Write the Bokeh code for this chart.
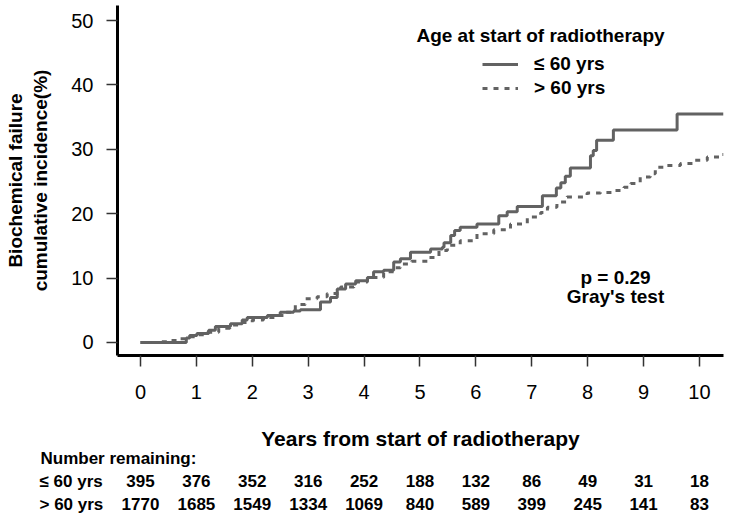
from bokeh.plotting import figure
from bokeh.layouts import column
from bokeh.models import (FixedTicker, Label, LinearAxis, Legend, LegendItem)
from bokeh.core.properties import value
from bokeh.embed import file_html
from bokeh.resources import INLINE

# ---------------- data ----------------
years = [0, 1, 2, 3, 4, 5, 6, 7, 8, 9, 10]
y_ticks = [0, 10, 20, 30, 40, 50]
n_le60 = [395, 376, 352, 316, 252, 188, 132, 86, 49, 31, 18]
n_gt60 = [1770, 1685, 1549, 1334, 1069, 840, 589, 399, 245, 141, 83]

t_le60 = [0.0, 0.82, 0.88, 1.01, 1.22, 1.34, 1.61, 1.82, 1.91, 2.27, 2.50, 2.74,
          2.86, 3.22, 3.40, 3.52, 3.67, 3.85, 4.06, 4.17, 4.35, 4.53, 4.65, 4.83,
          5.19, 5.40, 5.43, 5.55, 5.62, 5.72, 6.02, 6.41, 6.56, 6.74, 7.19, 7.44,
          7.52, 7.60, 7.69, 8.05, 8.10, 8.16, 8.46, 9.60, 10.43]
ci_le60 = [0.0, 0.7, 1.1, 1.4, 1.9, 2.5, 2.9, 3.5, 3.9, 4.2, 4.7, 4.9,
           5.1, 6.3, 7.0, 8.3, 9.1, 9.6, 10.1, 11.0, 11.2, 12.5, 13.0, 14.0,
           14.5, 14.8, 15.5, 16.6, 17.4, 17.9, 18.4, 19.7, 20.3, 21.1, 22.8, 24.0,
           24.8, 25.8, 27.1, 29.0, 29.8, 31.4, 33.0, 35.5, 35.5]

t_gt60 = [0.0, 0.30, 0.55, 0.70, 0.85, 1.00, 1.20, 1.40, 1.60, 1.80, 2.00, 2.20,
          2.40, 2.60, 2.77, 2.95, 3.16, 3.34, 3.58, 3.82, 4.06, 4.35, 4.53, 4.65,
          4.85, 5.16, 5.34, 5.49, 5.72, 6.02, 6.32, 6.62, 6.92, 7.16, 7.28, 7.45,
          7.63, 7.99, 8.23, 8.47, 8.65, 8.77, 8.94, 9.12, 9.21, 9.42, 9.66, 9.90,
          10.14, 10.38, 10.43]
ci_gt60 = [0.0, 0.1, 0.3, 0.6, 0.9, 1.2, 1.6, 2.2, 2.7, 3.1, 3.5, 3.9,
           4.2, 4.7, 5.9, 6.8, 7.1, 7.6, 8.6, 9.4, 10.1, 11.0, 11.6, 12.2,
           12.6, 13.2, 14.3, 15.1, 15.8, 16.9, 17.5, 18.4, 19.5, 20.2, 21.0, 21.8,
           22.6, 23.2, 23.3, 23.6, 24.1, 24.7, 25.7, 26.2, 27.2, 27.5, 27.8, 28.3,
           28.8, 29.2, 29.2]

label_le60 = "\u2264 60 yrs"
label_gt60 = "> 60 yrs"
table_rows = [1, 0]   # row index of each group in the number-at-risk table

# ---------------- styling ----------------
FONT = "Liberation Sans"
GRAY = "#626262"
W = 729

p = figure(width=W, height=410, x_range=(-0.411, 10.43), y_range=(-2.02, 52.33),
           output_backend="svg", toolbar_location=None, title_location=None,
           min_border_left=117, min_border_right=6, min_border_top=5,
           min_border_bottom=55)
p.frame_align = False
p.outline_line_color = None
p.grid.visible = False

for ax in (p.xaxis[0], p.yaxis[0]):
    ax.axis_line_width = 3
    ax.axis_line_color = "black"
    ax.major_tick_out = 11
    ax.major_tick_in = 0
    ax.minor_tick_out = 0
    ax.minor_tick_in = 0
    ax.major_tick_line_color = "#333333"
    ax.major_tick_line_width = 1.5
    ax.major_label_text_font = FONT
    ax.major_label_text_font_size = "20px"
    ax.major_label_text_color = "black"

p.xaxis.ticker = FixedTicker(ticks=years)
p.yaxis.ticker = FixedTicker(ticks=y_ticks)
p.xaxis.major_label_standoff = 18
p.yaxis.major_label_standoff = 13

p.yaxis.axis_label = "cumulative incidence(%)"
p.yaxis.axis_label_text_font = FONT
p.yaxis.axis_label_text_font_size = "19px"
p.yaxis.axis_label_text_font_style = "bold"
p.yaxis.axis_label_text_color = "black"
p.yaxis.axis_label_standoff = 17

outer = LinearAxis(axis_label="Biochemical failure", ticker=FixedTicker(ticks=[]),
                   axis_line_color=None, major_tick_out=0, major_tick_in=0,
                   minor_tick_out=0, minor_tick_in=0, major_label_standoff=0,
                   axis_label_standoff=2, axis_label_text_font=FONT,
                   axis_label_text_font_size="19px",
                   axis_label_text_font_style="bold",
                   axis_label_text_color="black")
p.add_layout(outer, "left")

r1 = p.step(t_le60, ci_le60, mode="after", line_color=GRAY, line_width=3)
r2 = p.step(t_gt60, ci_gt60, mode="after", line_color=GRAY, line_width=3,
            line_dash="5 6")

legend = Legend(items=[LegendItem(label=label_le60, renderers=[r1]),
                       LegendItem(label=label_gt60, renderers=[r2])],
                location=(365, 256), border_line_color=None,
                background_fill_alpha=0, padding=0, margin=0, glyph_width=36,
                glyph_height=20, label_height=20, label_standoff=16, spacing=2,
                label_text_font=FONT, label_text_font_size="19px",
                label_text_font_style="bold", label_text_color="black")
p.add_layout(legend)


def lab(fig, text, x, y, size="19px", align="center", style="bold"):
    fig.add_layout(Label(x=x, y=y, x_units="screen", y_units="screen", text=text,
                         text_font=FONT, text_font_size=size,
                         text_font_style=style, text_align=align,
                         text_baseline="middle", text_color="black"))


lab(p, "Age at start of radiotherapy", 423, 320)
lab(p, "p = 0.29", 498, 78)
lab(p, "Gray's test", 498, 59)

# ---------------- lower panel: axis title + number-at-risk table ----------------
t = figure(width=W, height=107, x_range=(-2.504, 10.537), y_range=(-0.593, 4.11),
           output_backend="svg", toolbar_location=None, title_location=None,
           x_axis_location=None, y_axis_location=None,
           min_border_left=0, min_border_right=0, min_border_top=0,
           min_border_bottom=0)
t.frame_align = False
t.outline_line_color = None
t.grid.visible = False

lab(t, "Years from start of radiotherapy", 420, 79, size="21px")
lab(t, "Number remaining:", 40, 59, size="17px", align="left")
lab(t, label_le60, 39, 36, size="17px", align="left")
lab(t, label_gt60, 39, 13.5, size="17px", align="left")

for row, counts in zip(table_rows, (n_le60, n_gt60)):
    t.text(x=years, y=[row] * len(years), text=[str(c) for c in counts],
           text_align="center", text_baseline="middle",
           text_font=value(FONT), text_font_size="17px",
           text_font_style="bold", text_color="black")

layout = column(p, t, spacing=0)
open("out.html", "w").write(file_html(layout, INLINE))
